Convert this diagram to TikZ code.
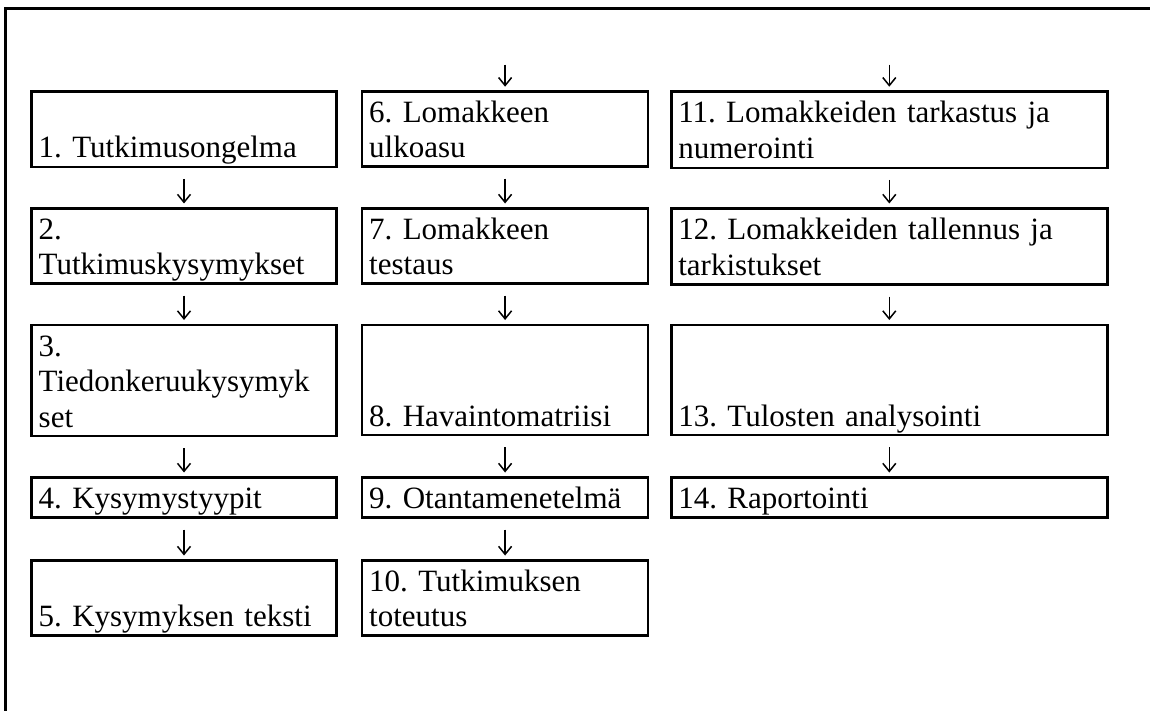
\documentclass[tikz,border=0pt]{standalone}
\usepackage{fontspec}
\setmainfont{Liberation Serif}
\usetikzlibrary{arrows.meta}
\newcommand{\boxstrut}{\rule[-6.5pt]{0pt}{35pt}}
\frenchspacing

\begin{document}
\begin{tikzpicture}[x=1pt, y=-1pt,
		stageBox/.style={rectangle, draw=black, line width=2.5pt, anchor=north west, outer sep=0pt, inner xsep=7pt, inner ysep=2.5pt, align=left, font=\fontsize{31}{35}\selectfont, execute at begin node=\boxstrut, execute at end node=\boxstrut},
		flow/.style={-{Straight Barb[length=8pt,width=13pt]}, line width=1.5pt, shorten <=12pt, shorten >=5pt}]
		\useasboundingbox (0,0) rectangle (1150,711);

		% frame
		\draw[line width=2.5pt] (5.5,711) -- (5.5,8.7) -- (1150,8.7);

		% first column
		\node[stageBox, text width=290.6pt](stage1Box) at (31.7,91.7){~\\1. Tutkimusongelma};
		\node[stageBox, text width=290.6pt](stage2Box) at (31.7,208.5){2.\\Tutkimuskysymykset};
		\node[stageBox, text width=290.6pt](stage3Box) at (31.7,325){3.\\Tiedonkeruukysymyk\\set};
		\node[stageBox, text width=290.6pt](stage4Box) at (31.7,477.5){4. Kysymystyypit};
		\node[stageBox, text width=290.6pt](stage5Box) at (31.7,560.5){~\\5. Kysymyksen teksti};

		% second column
		\node[stageBox, text width=271.8pt](stage6Box) at (362.2,91.7){6. Lomakkeen\\ulkoasu};
		\node[stageBox, text width=271.8pt](stage7Box) at (362.2,208.5){7. Lomakkeen\\testaus};
		\node[stageBox, text width=271.8pt](stage8Box) at (362.2,325){~\\~\\8. Havaintomatriisi};
		\node[stageBox, text width=271.8pt](stage9Box) at (362.2,477.5){9. Otantamenetelmä};
		\node[stageBox, text width=271.8pt](stage10Box) at (362.2,560.5){10. Tutkimuksen\\toteutus};

		% third column
		\node[stageBox, text width=422pt](stage11Box) at (671.3,91.7){11. Lomakkeiden tarkastus ja\\numerointi};
		\node[stageBox, text width=422pt](stage12Box) at (671.3,208.5){12. Lomakkeiden tallennus ja\\tarkistukset};
		\node[stageBox, text width=422pt](stage13Box) at (671.3,325){~\\~\\13. Tulosten analysointi};
		\node[stageBox, text width=422pt](stage14Box) at (671.3,477.5){14. Raportointi};

		\coordinate (col2Top) at ([yshift=27pt]stage6Box.north);
		\coordinate (col3Top) at ([yshift=27pt]stage11Box.north);

		% draw flow arrows
		\draw[flow] (stage1Box.south) -- (stage2Box.north);
		\draw[flow] (stage2Box.south) -- (stage3Box.north);
		\draw[flow] (stage3Box.south) -- (stage4Box.north);
		\draw[flow] (stage4Box.south) -- (stage5Box.north);

		\draw[flow, shorten <=0pt] (col2Top) -- (stage6Box.north);
		\draw[flow] (stage6Box.south) -- (stage7Box.north);
		\draw[flow] (stage7Box.south) -- (stage8Box.north);
		\draw[flow] (stage8Box.south) -- (stage9Box.north);
		\draw[flow] (stage9Box.south) -- (stage10Box.north);

		\draw[flow, shorten <=0pt] (col3Top) -- (stage11Box.north);
		\draw[flow] (stage11Box.south) -- (stage12Box.north);
		\draw[flow] (stage12Box.south) -- (stage13Box.north);
		\draw[flow] (stage13Box.south) -- (stage14Box.north);
	\end{tikzpicture}
\end{document}
